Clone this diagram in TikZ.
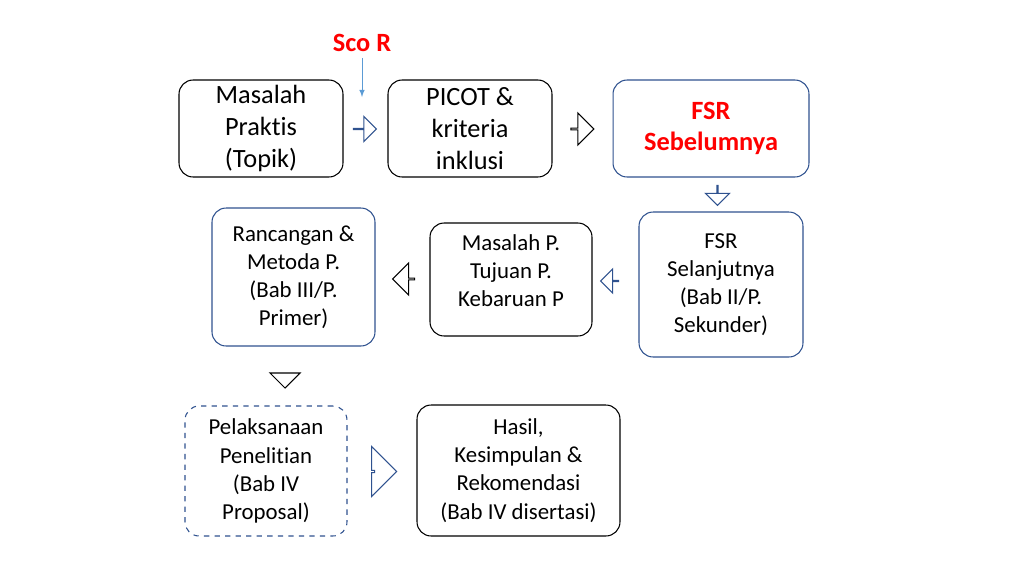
\documentclass[tikz,border=0pt]{standalone}
\usepackage{fontspec}
\setmainfont{Carlito}[Ligatures=NoCommon]
\usetikzlibrary{shapes.arrows, positioning}
\definecolor{boxblue}{RGB}{47, 82, 143}
\definecolor{thinblue}{RGB}{91, 155, 213}
\begin{document}
\begin{tikzpicture}[x=0.02cm, y=-0.02cm,
  stepbox/.style={draw, rounded corners=8pt, align=center, inner sep=2pt, line width=0.6pt},
  bigtext/.style={font=\fontsize{15}{18}\selectfont},
  smalltext/.style={font=\fontsize{13}{16}\selectfont},
  blockarrow/.style={draw, single arrow, inner sep=0pt, fill=white, line width=0.6pt},
]
\useasboundingbox (0,0) rectangle (1024,576);
% top row
\node[stepbox, bigtext, minimum width=3.28cm, minimum height=1.94cm] (masalah) at (261,128.5) {Masalah\\Praktis\\(Topik)};
\node[stepbox, bigtext, minimum width=3.28cm, minimum height=1.94cm] (picot) at (470,128.5) {PICOT \&\\kriteria\\inklusi};
\node[stepbox, bigtext, draw=boxblue, minimum width=3.92cm, minimum height=1.94cm, text=red, font=\fontsize{15}{18}\selectfont\bfseries] (fsrsebel) at (711,128.5) {FSR\\Sebelumnya};
\node[font=\fontsize{15}{18}\selectfont\bfseries, text=red] (scor) at (362,43) {Sco R};
\draw[-{latex}, thinblue, line width=0.4pt] (scor.south) -- (362,97);
% middle row
\node[stepbox, smalltext, draw=boxblue, minimum width=3.26cm, minimum height=2.76cm] (rancangan) at (293.5,277) {Rancangan \&\\Metoda P.\\(Bab III/P.\\Primer)};
\node[stepbox, smalltext, minimum width=3.24cm, minimum height=2.26cm] (tujuan) at (511,279.5) {Masalah P.\\Tujuan P.\\Kebaruan P\\[-0.2cm]};
\node[stepbox, smalltext, draw=boxblue, minimum width=3.28cm, minimum height=2.9cm] (fsrselan) at (721,284.5) {FSR\\Selanjutnya\\(Bab II/P.\\Sekunder)};
% bottom row
\node[stepbox, smalltext, dashed, draw=boxblue, minimum width=3.24cm, minimum height=2.6cm] (pelaksanaan) at (266,471) {Pelaksanaan\\Penelitian\\(Bab IV\\Proposal)};
\node[stepbox, smalltext, minimum width=4.06cm, minimum height=2.62cm] (hasil) at (518.5,470.5) {Hasil,\\Kesimpulan \&\\Rekomendasi\\(Bab IV disertasi)};
% block arrows
\node[blockarrow, draw=boxblue, minimum width=0.5cm, minimum height=0.46cm, single arrow head extend=0.19cm] (a1) at (364.5,129) {};
\node[blockarrow, minimum width=0.64cm, minimum height=0.46cm, single arrow head extend=0.19cm] (a2) at (582,129) {};
\node[blockarrow, draw=boxblue, shape border rotate=270, minimum width=0.48cm, minimum height=0.4cm, single arrow head extend=0.21cm] (a3) at (717.5,195) {};
\node[blockarrow, draw=boxblue, shape border rotate=180, minimum width=0.48cm, minimum height=0.36cm, single arrow head extend=0.2cm] (a4) at (610,281) {};
\node[blockarrow, shape border rotate=180, minimum width=0.64cm, minimum height=0.44cm, single arrow head extend=0.2cm] (a5) at (404,279) {};
\node[blockarrow, shape border rotate=270, minimum width=0.6cm, minimum height=0.3cm, single arrow head extend=0.15cm] (a6) at (285,380) {};
\node[blockarrow, draw=boxblue, minimum width=1.0cm, minimum height=0.44cm, single arrow head extend=0.21cm] (a7) at (385,471.5) {};
\end{tikzpicture}
\end{document}
